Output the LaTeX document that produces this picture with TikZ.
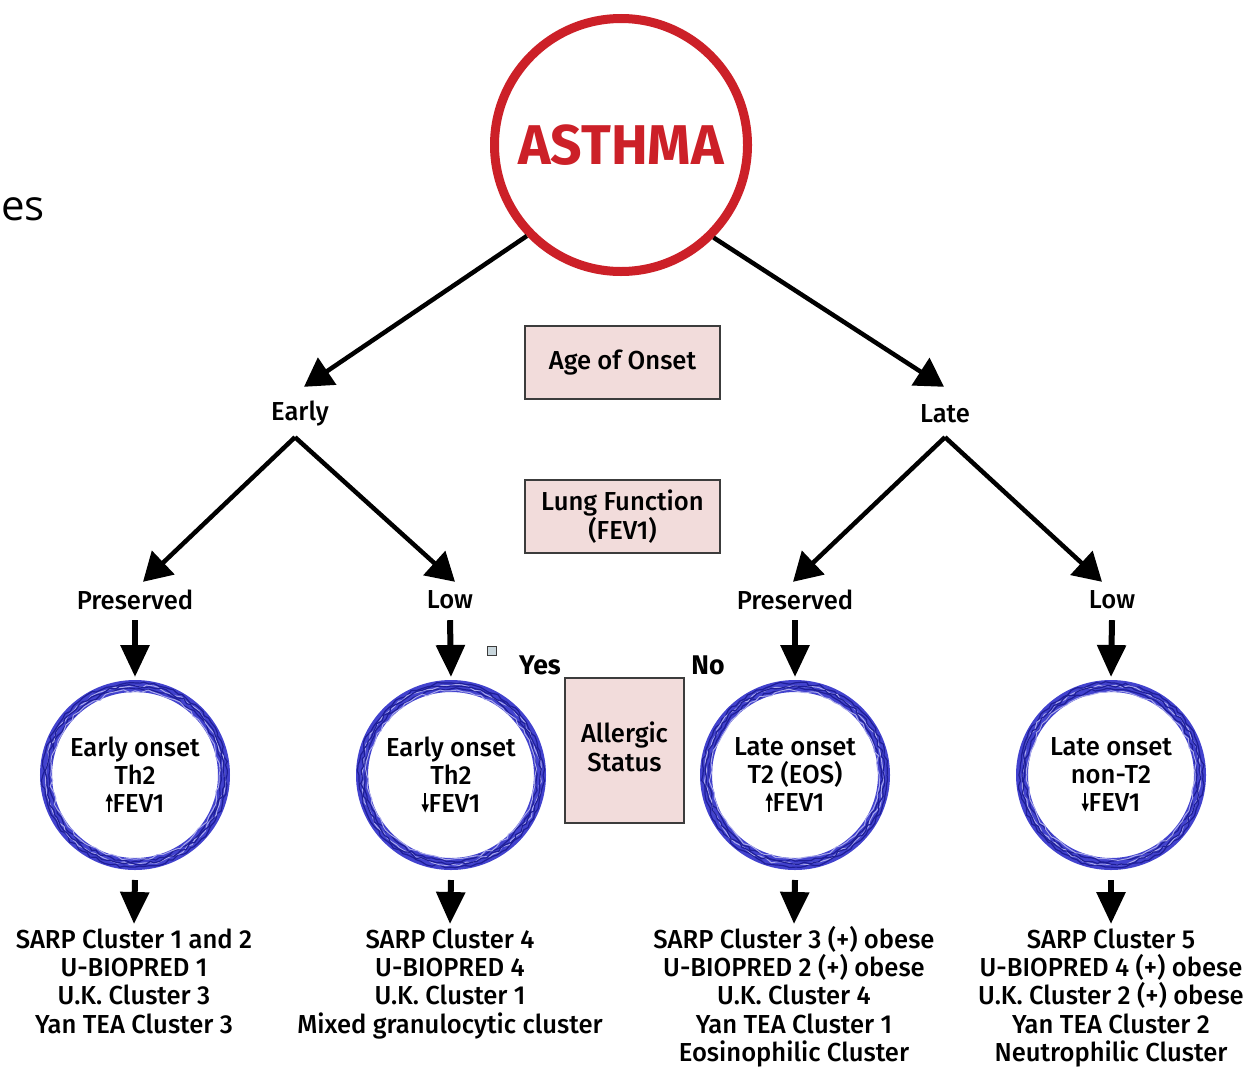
\documentclass[tikz,border=0pt]{standalone}
\usepackage{fontspec}
\setmainfont{Fira Sans Medium}[FakeStretch=0.985,BoldFont={Fira Sans Bold}]
\newfontfamily\plainfont{Open Sans}
\usetikzlibrary{arrows.meta,decorations.pathmorphing}
\definecolor{asred}{RGB}{204,32,40}
\definecolor{boxfill}{RGB}{242,220,219}
\definecolor{boxline}{RGB}{60,60,60}
\definecolor{ringblue}{RGB}{66,66,206}
\definecolor{ringdark}{RGB}{30,30,150}
\definecolor{ringlight}{RGB}{170,170,235}
\newcommand\uparr{\tikz[x=1pt,y=1pt,baseline=0pt]\draw[line width=1.6pt,-{Triangle[width=7pt,length=8pt]}](0,0)--(0,19);}
\newcommand\dnarr{\tikz[x=1pt,y=1pt,baseline=0pt]\draw[line width=1.6pt,-{Triangle[width=7pt,length=8pt]}](0,19)--(0,0);}
\tikzset{
  txt/.style={font=\fontsize{26}{28.3}\selectfont, align=center, inner sep=0pt},
  bigarrow/.style={line width=4.5pt, -{Triangle[width=32pt,length=28pt]}},
  downarrow/.style={line width=6pt, -{Triangle[width=28pt,length=32pt]}},
  pinkbox/.style={draw=boxline, line width=1.6pt, fill=boxfill, font=\fontsize{26}{29}\selectfont, align=center, inner sep=0pt},
  ring/.style={circle, draw=ringblue, line width=12pt, minimum size=178pt, inner sep=0pt, font=\fontsize{26}{28}\selectfont, align=center},
  tex1/.style={draw=ringdark, line width=1.2pt, decorate, decoration={random steps,segment length=5pt,amplitude=1.6pt}},
  tex2/.style={draw=ringlight, line width=1pt, decorate, decoration={random steps,segment length=6pt,amplitude=1.8pt}},
}
\begin{document}
\begin{tikzpicture}[x=1pt,y=-1pt]
\pgfmathsetseed{7}
\useasboundingbox (0,0) rectangle (1246,1068);
\fill[white] (0,0) rectangle (1246,1068);

% text at left edge
\node[anchor=base west, inner sep=0pt, font=\plainfont\fontsize{42}{42}\selectfont] (es) at (1,220) {es};

% ASTHMA circle
\node[circle, draw=asred, line width=9pt, minimum size=253pt, inner sep=0pt,
      font=\fontsize{56}{56}\selectfont\bfseries, text=asred] (asthma) at (621,145) {ASTHMA};

% level labels
\node[pinkbox, minimum width=195pt, minimum height=73pt] (age) at (622.5,362.5) {Age of Onset};
\node[pinkbox, minimum width=195pt, minimum height=73pt] (lung) at (622.5,516.5) {Lung Function\\(FEV1)};
\node[pinkbox, minimum width=119pt, minimum height=145pt, text depth=0pt] (allergic) at (624.5,750.5) {\raisebox{26pt}{\parbox{110pt}{\centering Allergic\\Status}}};

% Early / Late
\node[txt, minimum height=50pt] (early) at (300,414) {Early};
\node[txt, minimum height=50pt] (late) at (945,414) {Late};

\draw[bigarrow] (asthma.224) -- ([xshift=4pt,yshift=2pt]early.north);
\draw[bigarrow] (asthma.-45) -- ([xshift=-1pt,yshift=2pt]late.north);

% second level
\node[txt, minimum height=40pt] (pre1) at (135,600) {Preserved};
\node[txt, minimum height=40pt] (low1) at (450,600) {Low};
\node[txt, minimum height=40pt] (pre2) at (795,600) {Preserved};
\node[txt, minimum height=40pt] (low2) at (1112,600) {Low};

\draw[bigarrow] ([xshift=-5pt,yshift=2pt]early.south) -- ([xshift=8pt,yshift=-2pt]pre1.north);
\draw[bigarrow] ([xshift=-5pt,yshift=2pt]early.south) -- ([xshift=5pt,yshift=-2pt]low1.north);
\draw[bigarrow] ([yshift=2pt]late.south) -- ([xshift=-2pt,yshift=-2pt]pre2.north);
\draw[bigarrow] ([yshift=2pt]late.south) -- ([xshift=-10pt,yshift=-2pt]low2.north);

% rings
\node[ring] (c1) at (135,775) {Early onset\\Th2\\\uparr FEV1};
\node[ring] (c2) at (451,775) {Early onset\\Th2\\\dnarr FEV1};
\node[ring] (c3) at (795,775) {Late onset\\T2 (EOS)\\\uparr FEV1};
\node[ring] (c4) at (1111,775) {Late onset\\non-T2\\\dnarr FEV1};
\foreach \c in {c1,c2,c3,c4}{
  \path[tex1] (\c.center) circle (86);
  \path[tex1] (\c.center) circle (92);
  \path[tex2] (\c.center) circle (89);
  \path[tex2] (\c.center) circle (84);
  \path[tex1] (\c.center) circle (89);
}

\draw[downarrow] (pre1.south) -- ([yshift=3pt]c1.north);
\draw[downarrow] (low1.south) -- ([yshift=3pt]c2.north);
\draw[downarrow] (pre2.south) -- ([yshift=3pt]c3.north);
\draw[downarrow] (low2.south) -- ([yshift=3pt]c4.north);

% Yes / No and small marker
\node[draw=boxline, line width=1.2pt, fill=cyan!25!gray!40, minimum size=9pt, inner sep=0pt] (mark) at (492,651) {};
\node[txt, font=\fontsize{27}{27}\selectfont\bfseries] (yes) at (540,665) {Yes};
\node[txt, font=\fontsize{27}{27}\selectfont\bfseries] (no) at (708,665) {No};

% outcome lists
\node[txt, anchor=north] (r1) at (134,926) {\vphantom{(}SARP Cluster 1 and 2\\U-BIOPRED 1\\U.K. Cluster 3\\Yan TEA Cluster 3};
\node[txt, anchor=north] (r2) at (450,926) {\vphantom{(}SARP Cluster 4\\U-BIOPRED 4\\U.K. Cluster 1\\Mixed granulocytic cluster};
\node[txt, anchor=north] (r3) at (794,926) {SARP Cluster 3 (+) obese\\U-BIOPRED 2 (+) obese\\U.K. Cluster 4\\Yan TEA Cluster 1\\Eosinophilic Cluster};
\node[txt, anchor=north] (r4) at (1111,926) {\vphantom{(}SARP Cluster 5\\U-BIOPRED 4 (+) obese\\U.K. Cluster 2 (+) obese\\Yan TEA Cluster 2\\Neutrophilic Cluster};

\draw[downarrow] ([yshift=-10pt]c1.south) -- ([yshift=2pt]r1.north);
\draw[downarrow] ([yshift=-10pt]c2.south) -- ([yshift=2pt]r2.north);
\draw[downarrow] ([yshift=-10pt]c3.south) -- ([yshift=2pt]r3.north);
\draw[downarrow] ([yshift=-10pt]c4.south) -- ([yshift=2pt]r4.north);
\end{tikzpicture}
\end{document}
